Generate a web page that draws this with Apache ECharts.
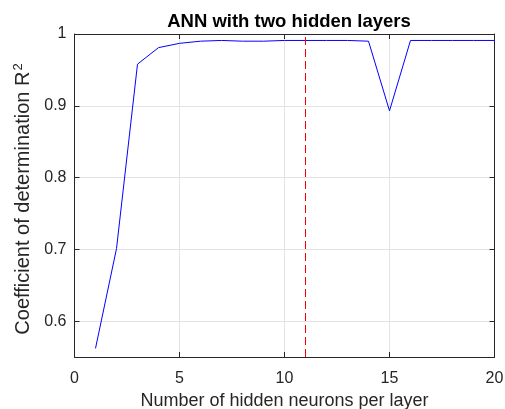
<!DOCTYPE html>
<html>
<head>
<meta charset="utf-8">
<script src="https://cdn.jsdelivr.net/npm/echarts@6/dist/echarts.min.js"></script>
<style>
  html, body { margin: 0; padding: 0; background: #fff; }
  #chart { width: 505px; height: 409px; }
</style>
</head>
<body>
<div id="chart"></div>
<script>
// Neurons per hidden layer and the resulting R^2
const neurons = [1, 2, 3, 4, 5, 6, 7, 8, 9, 10, 11, 12, 13, 14, 15, 16, 17, 18, 19, 20];
const r2 = [0.562, 0.701, 0.958, 0.981, 0.987, 0.990, 0.991, 0.990, 0.990, 0.991, 0.991, 0.991, 0.991, 0.990, 0.893, 0.991, 0.991, 0.991, 0.991, 0.991];
// Chosen network size (dashed marker spanning the y range)
const chosenNeurons = 11;
const yRange = [0.55, 1];

const FONT = '"Liberation Sans", Arial, Helvetica, sans-serif';
const AXIS_COLOR = '#262626';
const GRID_COLOR = '#e3e3e3';

const chart = echarts.init(document.getElementById('chart'), null, { renderer: 'canvas' });

const baseX = {
  type: 'value', min: 0, max: 20, interval: 5,
  axisLine: { show: true, onZero: false, lineStyle: { color: AXIS_COLOR, width: 1 } },
  axisTick: { show: true, inside: true, length: 5, lineStyle: { color: AXIS_COLOR } },
  splitLine: { show: false }
};
const baseY = {
  type: 'value', min: yRange[0], max: yRange[1], splitNumber: 5,
  axisLine: { show: true, onZero: false, lineStyle: { color: AXIS_COLOR, width: 1 } },
  axisTick: { show: true, inside: true, length: 5, lineStyle: { color: AXIS_COLOR } },
  splitLine: { show: false }
};

chart.setOption({
  animation: false,
  backgroundColor: '#ffffff',
  title: {
    text: 'ANN with two hidden layers',
    left: 284, top: 7, textAlign: 'center',
    textStyle: { fontFamily: FONT, fontSize: 18.5, fontWeight: 'bold', color: '#000' }
  },
  // half-pixel offset keeps the 1px vertical marker crisp
  grid: { left: 74.5, right: 10.5, top: 34, bottom: 52, containLabel: false, outerBoundsMode: 'none' },
  xAxis: [
    Object.assign({}, baseX, {
      position: 'bottom',
      name: 'Number of hidden neurons per layer',
      nameLocation: 'middle', nameGap: 33,
      nameTextStyle: { fontFamily: FONT, fontSize: 18, color: AXIS_COLOR },
      axisLabel: { show: true, margin: 14, fontFamily: FONT, fontSize: 16, color: AXIS_COLOR },
      splitLine: { show: true, lineStyle: { color: GRID_COLOR, width: 1 } }
    }),
    Object.assign({}, baseX, { position: 'top', axisLabel: { show: false } })
  ],
  yAxis: [
    Object.assign({}, baseY, {
      position: 'left',
      name: '{a|Coefficient of determination R}{s|2}',
      nameLocation: 'middle', nameGap: 37,
      nameTextStyle: {
        fontFamily: FONT, fontSize: 20, color: AXIS_COLOR,
        rich: {
          a: { fontFamily: FONT, fontSize: 20, color: AXIS_COLOR },
          s: { fontFamily: FONT, fontSize: 13, color: AXIS_COLOR, verticalAlign: 'top', padding: [0, 7, 9, 1] }
        }
      },
      axisLabel: {
        show: true, margin: 8, fontFamily: FONT, fontSize: 16, color: AXIS_COLOR,
        showMinLabel: false,
        formatter: v => (Math.abs(v - 0.55) < 1e-9 ? '' : String(+v.toFixed(2)))
      },
      splitLine: { show: true, lineStyle: { color: GRID_COLOR, width: 1 } }
    }),
    Object.assign({}, baseY, { position: 'right', axisLabel: { show: false } })
  ],
  series: [
    {
      name: 'R2',
      type: 'line',
      xAxisIndex: 0, yAxisIndex: 0,
      data: neurons.map((n, i) => [n, r2[i]]),
      showSymbol: false, symbol: 'none',
      lineStyle: { color: '#0000ff', width: 1 },
      itemStyle: { color: '#0000ff' },
      z: 3
    },
    {
      name: 'chosen',
      type: 'line',
      xAxisIndex: 0, yAxisIndex: 0,
      data: yRange.map(y => [chosenNeurons, y]),
      showSymbol: false, symbol: 'none',
      lineStyle: { color: '#ff0000', type: [8, 4], width: 1 },
      itemStyle: { color: '#ff0000' },
      z: 4
    }
  ]
});
</script>
</body>
</html>
